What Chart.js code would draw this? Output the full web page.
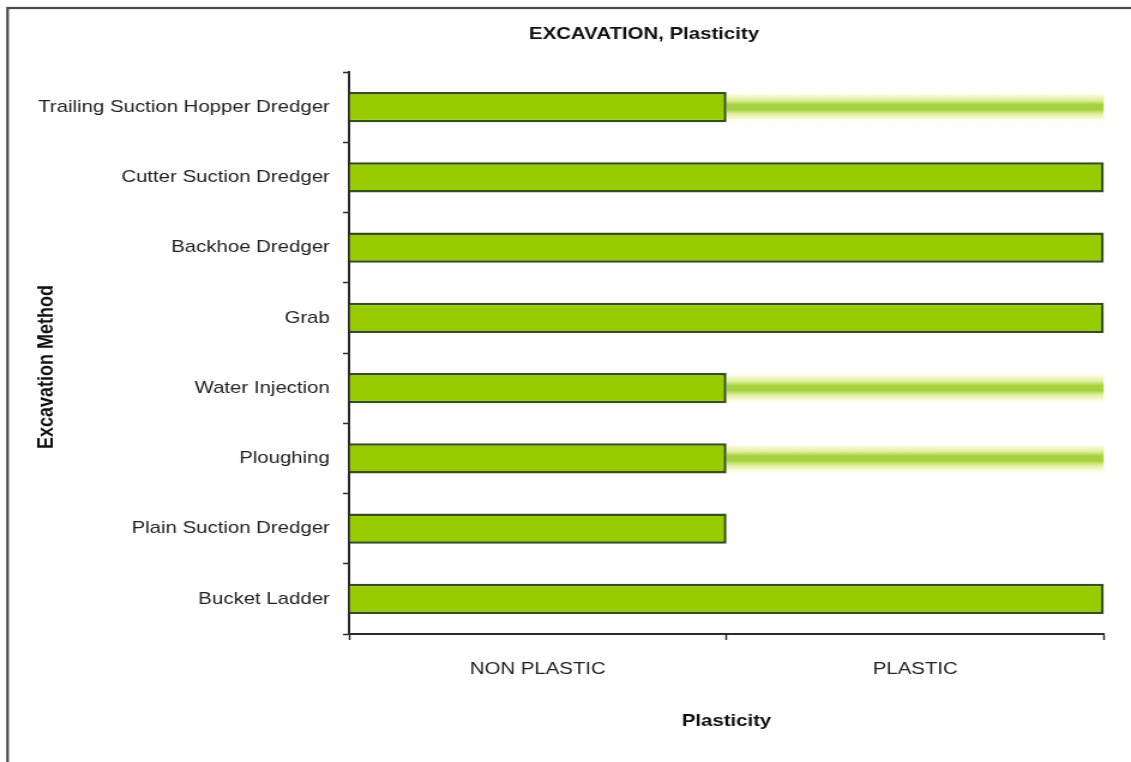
<!DOCTYPE html>
<html>
<head>
<meta charset="utf-8">
<title>EXCAVATION, Plasticity</title>
<script src="https://cdn.jsdelivr.net/npm/chart.js@4.4.1/dist/chart.umd.min.js"></script>
<style>
  html, body { margin: 0; padding: 0; background: #fff; overflow: hidden; }
  #chart { display: block; }
</style>
</head>
<body>
<!-- drawn narrower and widened horizontally, like the exported sheet chart -->
<canvas id="chart" width="943" height="762" style="width:1131px;height:762px"></canvas>
<script>
// Excavation methods, top to bottom
const methods = [
  'Trailing Suction Hopper Dredger',
  'Cutter Suction Dredger',
  'Backhoe Dredger',
  'Grab',
  'Water Injection',
  'Ploughing',
  'Plain Suction Dredger',
  'Bucket Ladder'
];
// suitability per plasticity class (1 = suitable across the class band)
const nonPlastic     = [1, 1, 1, 1, 1, 1, 1, 1];
const plasticFull    = [0, 1, 1, 1, 0, 0, 0, 1];
const plasticPartial = [1, 0, 0, 0, 1, 1, 0, 0];
// plasticity classes along the x axis
const plasticityClasses = ['NON PLASTIC', 'PLASTIC'];

const FONT = "'Liberation Sans', Arial, Helvetica, sans-serif";

const solidData = methods.map((_, i) => nonPlastic[i] + plasticFull[i]);
const partialData = methods.map((_, i) =>
  plasticPartial[i] ? [nonPlastic[i], nonPlastic[i] + plasticPartial[i]] : null);

// class boundaries get tick marks, class centres get the labels
const xTickValues = [];
plasticityClasses.forEach((_, k) => { xTickValues.push(k, k + 0.5); });
xTickValues.push(plasticityClasses.length);

// soft band used for partly suitable conditions
function partialFill(ctx) {
  const chart = ctx.chart;
  const ys = chart.scales && chart.scales.y;
  if (!chart.chartArea || !ys || ctx.dataIndex === undefined) return '#a4d03c';
  const cy = ys.getPixelForValue(ctx.dataIndex);
  const half = 15;
  const g = chart.ctx.createLinearGradient(0, cy - half, 0, cy + half);
  g.addColorStop(0.00, 'rgba(255,255,235,0)');
  g.addColorStop(0.10, '#fbfbd8');
  g.addColorStop(0.28, '#dcee9a');
  g.addColorStop(0.42, '#a6d13e');
  g.addColorStop(0.58, '#a6d13e');
  g.addColorStop(0.72, '#dcee9a');
  g.addColorStop(0.90, '#fbfbd8');
  g.addColorStop(1.00, 'rgba(255,255,235,0)');
  return g;
}

// white page, outer frame, chart title and vertical axis title
const framePlugin = {
  id: 'frameAndTitles',
  beforeDraw(chart) {
    const c = chart.ctx;
    c.save();
    c.fillStyle = '#fff';
    c.fillRect(0, 0, chart.width, chart.height);
    c.strokeStyle = '#4a4a4a';
    c.lineWidth = 2.2;
    c.strokeRect(6.3, 8, chart.width + 20, chart.height + 20);
    c.restore();
  },
  afterDraw(chart) {
    const c = chart.ctx;
    c.save();
    c.fillStyle = '#111';
    c.font = 'bold 17px ' + FONT;
    c.textAlign = 'center';
    c.textBaseline = 'middle';
    c.fillText('EXCAVATION, Plasticity', 537, 34);
    c.translate(39, 367);
    c.rotate(-Math.PI / 2);
    c.font = 'bold 18px ' + FONT;
    c.fillText('Excavation Method', 0, 0);
    c.restore();
  }
};

new Chart(document.getElementById('chart'), {
  type: 'bar',
  data: {
    labels: methods,
    datasets: [
      {
        label: 'Suitable',
        data: solidData,
        backgroundColor: '#99cc00',
        borderColor: '#34501a',
        borderWidth: 2.5,
        borderSkipped: 'start',
        grouped: false,
        order: 0,
        barPercentage: 0.43,
        categoryPercentage: 1
      },
      {
        label: 'Partly suitable',
        data: partialData,
        backgroundColor: partialFill,
        borderWidth: 0,
        grouped: false,
        order: 1,
        barPercentage: 0.43,
        categoryPercentage: 1
      }
    ]
  },
  options: {
    indexAxis: 'y',
    responsive: false,
    animation: false,
    layout: { padding: { top: 72, right: 22.5, bottom: 0, left: 0 } },
    plugins: {
      legend: { display: false },
      tooltip: { enabled: false },
      title: { display: false }
    },
    scales: {
      x: {
        type: 'linear',
        position: 'bottom',
        min: 0,
        max: plasticityClasses.length,
        afterBuildTicks: s => { s.ticks = xTickValues.map(v => ({ value: v })); },
        afterFit: s => { s.height = 128; },
        border: { display: true, color: '#2b2b2b', width: 2 },
        grid: {
          drawOnChartArea: false,
          drawTicks: true,
          tickLength: 6,
          tickWidth: 1.5,
          tickColor: c => (c.tick && Number.isInteger(c.tick.value)) ? '#2b2b2b' : 'rgba(0,0,0,0)'
        },
        ticks: {
          autoSkip: false,
          maxRotation: 0,
          minRotation: 0,
          padding: 19,
          color: '#222',
          font: { family: FONT, size: 17 },
          callback: v => Number.isInteger(v) ? '' : plasticityClasses[Math.floor(v)]
        },
        title: {
          display: true,
          text: 'Plasticity',
          color: '#111',
          font: { family: FONT, size: 17, weight: 'bold' },
          padding: { top: 0, bottom: 30 }
        }
      },
      y: {
        type: 'category',
        offset: true,
        afterFit: s => { s.width = 291; },
        border: { display: true, color: '#2b2b2b', width: 2 },
        grid: {
          offset: true,
          drawOnChartArea: false,
          drawTicks: true,
          tickLength: 5,
          tickWidth: 1.5,
          tickColor: '#2b2b2b'
        },
        ticks: {
          autoSkip: false,
          padding: 11,
          color: '#222',
          font: { family: FONT, size: 17 }
        }
      }
    }
  },
  plugins: [framePlugin]
});
</script>
</body>
</html>
